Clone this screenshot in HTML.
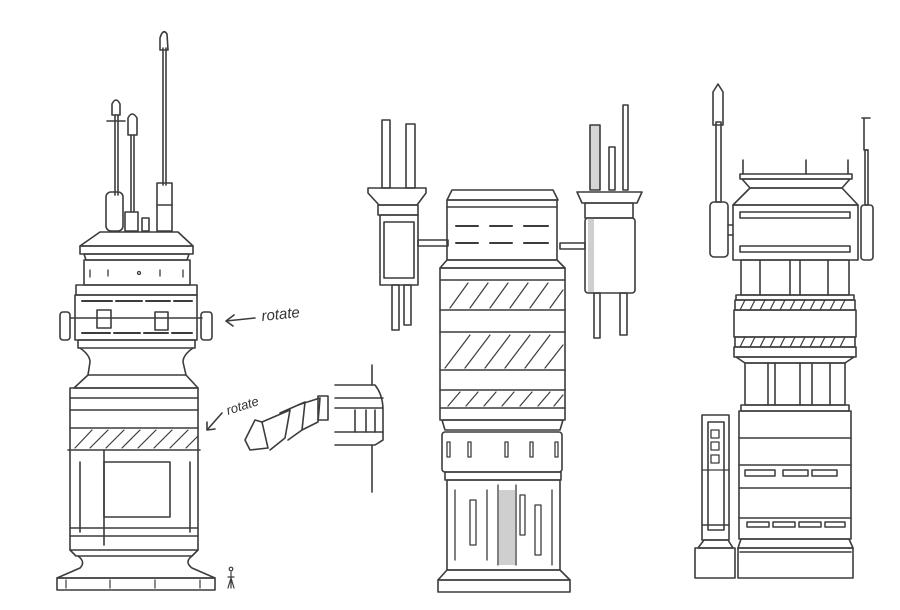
<!DOCTYPE html>
<html><head><style>
html,body{margin:0;padding:0;background:#fff;}
svg{display:block;}
text{font-family:"Liberation Sans",sans-serif;}
</style></head><body>
<svg width="900" height="610" viewBox="0 0 900 610" xmlns="http://www.w3.org/2000/svg">
<g fill="none" stroke="#3c3c3c" stroke-width="1.6" stroke-linecap="round" stroke-linejoin="round">
<!-- TOWER 1 antennas -->
<line x1="163" y1="48" x2="163" y2="185"/><line x1="166" y1="48" x2="166" y2="185"/>
<path d="M160 50 L160 38 Q163 28 167 34 L168 50 Z"/>
<rect x="157" y="183" width="15" height="48"/><line x1="157" y1="205" x2="172" y2="205"/>
<line x1="115" y1="115" x2="115" y2="195"/><line x1="118" y1="115" x2="118" y2="195"/>
<path d="M112 115 L112 104 Q116 96 120 104 L120 115 Z"/><line x1="107" y1="121" x2="125" y2="121"/>
<rect x="106" y="192" width="17" height="39" rx="5"/>
<line x1="131" y1="135" x2="131" y2="212"/><line x1="134" y1="135" x2="134" y2="212"/>
<path d="M128 135 L128 118 Q132 110 137 118 L137 135 Z"/>
<rect x="125" y="212" width="13" height="19"/><rect x="142" y="218" width="7" height="13"/>
<!-- cap -->
<path d="M100 232 L178 232 L193 246 L80 246 Z"/>
<rect x="80" y="246" width="113" height="8"/>
<path d="M84 254 L189 254 L187 260 L86 260 Z"/>
<rect x="84" y="260" width="106" height="25"/>
<g stroke-width="1.3"><line x1="90" y1="270" x2="90" y2="277"/><line x1="108" y1="270" x2="108" y2="276"/><circle cx="139" cy="273" r="1.5"/><line x1="160" y1="270" x2="160" y2="276"/><line x1="183" y1="270" x2="183" y2="277"/></g>
<rect x="76" y="285" width="121" height="10"/>
<rect x="75" y="295" width="122" height="45"/>
<g stroke-width="2"><line x1="82" y1="301" x2="112" y2="301"/><line x1="116" y1="301" x2="142" y2="301"/><line x1="146" y1="301" x2="170" y2="301"/><line x1="174" y1="301" x2="192" y2="301"/>
<line x1="82" y1="333" x2="110" y2="333"/><line x1="114" y1="333" x2="140" y2="333"/><line x1="144" y1="333" x2="168" y2="333"/><line x1="172" y1="333" x2="192" y2="333"/></g>
<line x1="70" y1="318" x2="202" y2="318"/>
<rect x="97" y="310" width="14" height="18"/><rect x="155" y="312" width="13" height="18"/>
<rect x="60" y="312" width="10" height="28" rx="3"/><rect x="201" y="312" width="11" height="28" rx="3"/>
<rect x="78" y="340" width="117" height="8"/>
<path d="M80 348 Q90 355 90 362 L88 375 M193 348 Q183 355 183 362 L186 375"/>
<path d="M88 375 L74 388 L198 388 L186 375 Z"/>
<rect x="70" y="388" width="128" height="10"/>
<line x1="70" y1="398" x2="70" y2="550"/><line x1="198" y1="398" x2="198" y2="550"/>
<line x1="70" y1="410" x2="198" y2="410"/><line x1="70" y1="428" x2="198" y2="428"/>
<line x1="68" y1="450" x2="200" y2="450"/>
<g stroke-width="1.2"><path d="M75 448 L92 430 M90 448 L108 430 M106 448 L124 430 M122 448 L140 430 M138 448 L156 430 M154 448 L172 430 M170 448 L188 430 M186 448 L198 436"/></g>
<line x1="80" y1="462" x2="80" y2="532"/><line x1="190" y1="462" x2="190" y2="532"/>
<rect x="104" y="462" width="66" height="55"/><line x1="104" y1="450" x2="104" y2="545"/>
<line x1="70" y1="528" x2="198" y2="528"/><line x1="70" y1="536" x2="198" y2="536"/>
<path d="M70 550 L198 550 L192 556 L76 556 Z"/>
<path d="M78 556 Q86 562 80 568 L57 578 L215 578 L192 568 Q184 562 192 556"/>
<rect x="57" y="578" width="158" height="12"/>
<g stroke-width="1.2"><line x1="66" y1="580" x2="66" y2="588"/><line x1="110" y1="580" x2="110" y2="588"/><line x1="155" y1="580" x2="155" y2="588"/><line x1="200" y1="580" x2="200" y2="588"/></g>
<path d="M231 572 L231 588 M228 588 L231 578 L234 588 M228 577 L234 577" stroke-width="1.2"/>
<circle cx="231" cy="569" r="1.8" stroke-width="1.2"/>
<!-- arrows -->
<path d="M255 318 L226 321 M234 315 L226 321 L233 326"/>
<path d="M222 413 L207 430 M207 422 L207 430 L215 429"/>
<!-- fragment -->
<path d="M245 440 L255 420 L262 422 L268 448 L250 450 Z"/>
<path d="M262 422 L290 410 L285 438 L270 450"/>
<path d="M280 413 L305 402 L302 430 L288 440"/>
<path d="M298 405 L320 398 L318 422 L302 430"/>
<rect x="318" y="396" width="10" height="24"/>
<line x1="372" y1="365" x2="372" y2="385"/><line x1="372" y1="445" x2="372" y2="492"/>
<path d="M335 385 L375 385 Q383 395 383 410 L383 440 L375 445 L335 445"/>
<line x1="335" y1="398" x2="383" y2="398"/><line x1="335" y1="408" x2="383" y2="408"/><line x1="335" y1="432" x2="383" y2="432"/>
<line x1="355" y1="410" x2="355" y2="432"/><line x1="366" y1="410" x2="366" y2="432"/><line x1="375" y1="410" x2="375" y2="432"/>

<!-- TOWER 2 left pod -->
<rect x="382" y="120" width="8" height="68"/><rect x="406" y="124" width="9" height="64"/>
<path d="M368 188 L426 188 L426 193 L417 205 L379 205 L368 193 Z"/>
<rect x="378" y="205" width="40" height="10"/>
<rect x="380" y="215" width="38" height="70"/>
<rect x="384" y="222" width="30" height="56"/>
<rect x="392" y="285" width="7" height="45"/><rect x="404" y="285" width="7" height="40"/>
<rect x="418" y="240" width="30" height="6"/>
<!-- center -->
<path d="M452 190 L553 190 L558 200 L447 200 Z"/>
<rect x="447" y="200" width="110" height="60"/><line x1="447" y1="207" x2="557" y2="207"/>
<g stroke-width="2"><line x1="456" y1="226" x2="478" y2="226"/><line x1="490" y1="226" x2="512" y2="226"/><line x1="524" y1="226" x2="548" y2="226"/>
<line x1="456" y1="243" x2="478" y2="243"/><line x1="490" y1="243" x2="512" y2="243"/><line x1="524" y1="243" x2="548" y2="243"/></g>
<path d="M447 260 L557 260 L565 268 L440 268 Z"/>
<rect x="440" y="268" width="125" height="152"/>
<line x1="440" y1="280" x2="565" y2="280"/><line x1="440" y1="310" x2="565" y2="310"/><line x1="440" y1="332" x2="565" y2="332"/>
<line x1="440" y1="370" x2="565" y2="370"/><line x1="440" y1="390" x2="565" y2="390"/><line x1="440" y1="408" x2="565" y2="408"/>
<g stroke-width="1.2"><path d="M450 308 L468 283 M470 308 L488 283 M490 308 L508 283 M510 308 L528 283 M530 308 L548 283 M550 308 L563 290"/>
<path d="M445 368 L470 335 M465 368 L490 335 M485 368 L510 335 M505 368 L530 335 M525 368 L550 335 M545 368 L563 345"/>
<path d="M448 406 L460 392 M466 406 L478 392 M484 406 L496 392 M502 406 L514 392 M520 406 L532 392 M538 406 L550 392 M554 406 L563 395"/></g>
<path d="M442 420 L563 420 L560 430 L445 430 Z"/>
<rect x="442" y="432" width="120" height="40" rx="3"/>
<g stroke-width="1.3"><rect x="447" y="442" width="3" height="15"/><rect x="468" y="442" width="3" height="15"/><rect x="505" y="442" width="3" height="15"/><rect x="530" y="442" width="3" height="15"/><rect x="555" y="442" width="3" height="15"/></g>
<rect x="445" y="472" width="116" height="8"/>
<rect x="447" y="480" width="113" height="90"/>
<rect x="499" y="490" width="16" height="75" fill="#cfcfcf" stroke="none"/>
<g stroke-width="1.3"><line x1="455" y1="490" x2="455" y2="560"/><rect x="470" y="500" width="6" height="45"/><line x1="487" y1="490" x2="487" y2="560"/><line x1="498" y1="485" x2="498" y2="565"/><line x1="516" y1="485" x2="516" y2="565"/><rect x="520" y="495" width="5" height="40"/><rect x="535" y="505" width="6" height="50"/><line x1="552" y1="490" x2="552" y2="565"/></g>
<path d="M447 570 L560 570 L570 580 L438 580 Z"/>
<rect x="438" y="580" width="132" height="12"/>
<!-- right pod -->
<rect x="590" y="125" width="10" height="65" fill="#d6d6d6"/><rect x="609" y="147" width="6" height="43"/><rect x="623" y="105" width="5" height="85"/>
<path d="M577 192 L642 192 L637 203 L582 203 Z"/>
<path d="M585 203 L633 203 L633 218 L585 218 Z"/>
<rect x="588" y="218" width="6" height="75" fill="#cfcfcf" stroke="none"/>
<rect x="585" y="218" width="50" height="75" rx="3"/>
<rect x="560" y="243" width="25" height="6"/>
<rect x="594" y="293" width="6" height="45"/><rect x="620" y="293" width="7" height="42"/>

<!-- TOWER 3 -->
<rect x="716" y="122" width="5" height="80"/>
<path d="M713 125 L713 92 L718 84 L723 92 L723 125 Z"/>
<rect x="710" y="202" width="18" height="55" rx="4"/>
<rect x="865" y="150" width="3" height="55"/><path d="M862 118 L870 118 M864 118 L864 150 L868 150"/>
<rect x="861" y="205" width="12" height="55" rx="3"/>
<line x1="743" y1="160" x2="743" y2="174"/><line x1="806" y1="160" x2="806" y2="174"/><line x1="848" y1="160" x2="848" y2="174"/>
<rect x="740" y="174" width="112" height="5"/>
<path d="M742 179 L850 179 L842 188 L750 188 Z"/>
<path d="M750 188 L842 188 L858 205 L733 205 Z"/>
<rect x="733" y="205" width="125" height="55"/>
<rect x="740" y="212" width="110" height="6"/><rect x="740" y="246" width="110" height="6"/>
<line x1="728" y1="225" x2="733" y2="225"/><line x1="728" y1="235" x2="733" y2="235"/>
<rect x="741" y="260" width="108" height="35"/>
<line x1="760" y1="260" x2="760" y2="295"/><line x1="790" y1="260" x2="790" y2="295"/><line x1="800" y1="260" x2="800" y2="295"/><line x1="828" y1="260" x2="828" y2="295"/>
<rect x="736" y="295" width="118" height="5"/>
<rect x="735" y="300" width="120" height="10"/>
<g stroke-width="1.2"><path d="M740 310 L745 300 M750 310 L755 300 M760 310 L765 300 M770 310 L775 300 M780 310 L785 300 M790 310 L795 300 M800 310 L805 300 M810 310 L815 300 M820 310 L825 300 M830 310 L835 300 M840 310 L845 300"/>
<path d="M740 347 L745 337 M750 347 L755 337 M760 347 L765 337 M770 347 L775 337 M780 347 L785 337 M790 347 L795 337 M800 347 L805 337 M810 347 L815 337 M820 347 L825 337 M830 347 L835 337 M840 347 L845 337"/></g>
<rect x="734" y="310" width="122" height="27"/>
<rect x="735" y="337" width="120" height="10"/>
<rect x="734" y="347" width="122" height="10"/>
<path d="M736 357 L854 357 L845 363 L745 363 Z"/>
<rect x="745" y="363" width="100" height="42"/>
<line x1="768" y1="363" x2="768" y2="405"/><line x1="775" y1="363" x2="775" y2="405"/><line x1="800" y1="363" x2="800" y2="405"/><line x1="812" y1="363" x2="812" y2="405"/><line x1="830" y1="363" x2="830" y2="405"/>
<rect x="741" y="405" width="108" height="6"/>
<rect x="739" y="411" width="112" height="128"/>
<line x1="739" y1="438" x2="851" y2="438"/><line x1="739" y1="465" x2="851" y2="465"/><line x1="739" y1="488" x2="851" y2="488"/><line x1="739" y1="518" x2="851" y2="518"/>
<g stroke-width="1.5"><rect x="745" y="470" width="30" height="6"/><rect x="783" y="470" width="25" height="6"/><rect x="812" y="470" width="25" height="6"/>
<rect x="747" y="522" width="22" height="5"/><rect x="773" y="522" width="22" height="5"/><rect x="799" y="522" width="22" height="5"/><rect x="825" y="522" width="20" height="5"/></g>
<path d="M741 539 L849 539 L853 548 L738 548 Z"/>
<rect x="738" y="548" width="115" height="30"/><line x1="740" y1="552" x2="851" y2="552"/>
<!-- side pillar -->
<rect x="702" y="415" width="27" height="125"/>
<rect x="708" y="422" width="16" height="108"/>
<g stroke-width="1.3"><rect x="711" y="430" width="8" height="8"/><rect x="711" y="442" width="8" height="8"/><rect x="711" y="455" width="8" height="8"/><line x1="702" y1="470" x2="729" y2="470"/></g>
<line x1="702" y1="525" x2="729" y2="525"/>
<path d="M704 540 L728 540 L733 548 L698 548 Z"/>
<rect x="695" y="548" width="40" height="30"/>
</g>
<text x="262" y="321" font-size="15" fill="#333" transform="rotate(-6 262 321)" font-style="italic">rotate</text>
<text x="228" y="415" font-size="13" fill="#333" transform="rotate(-18 228 415)" font-style="italic">rotate</text>
</svg>
</body></html>
